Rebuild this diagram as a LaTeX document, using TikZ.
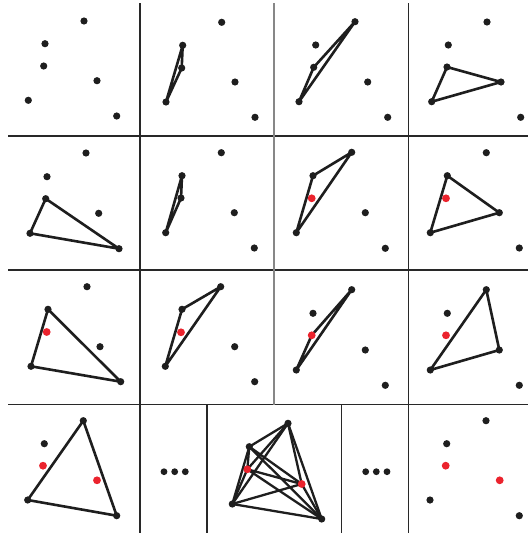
\documentclass[tikz,border=0pt]{standalone}
\usetikzlibrary{backgrounds}
\pgfdeclarelayer{bottom}
\pgfsetlayers{bottom,background,main}
\definecolor{dotblack}{RGB}{30,30,30}
\definecolor{dotred}{RGB}{235,35,45}
\definecolor{gridc}{RGB}{40,40,40}
\definecolor{gridg}{RGB}{135,135,135}
\tikzset{
  blk/.style={circle,fill=dotblack,inner sep=0pt,minimum size=7.2pt},
  redp/.style={circle,fill=dotred,inner sep=0pt,minimum size=7.8pt},
  tri/.style={draw=dotblack,line width=2.6pt,line join=round,line cap=round},
  kedge/.style={draw=dotblack,line width=2.3pt,line cap=round},
  gridline/.style={draw=gridc,line width=1.3pt},
  greyline/.style={draw=gridg,line width=1.5pt}
}
\newcommand\sixpts[9]{%
  \node[blk] (#1A) at (#2) {};
  \node[blk] (#1B) at (#3) {};
  \node[#8] (#1C) at (#4) {};
  \node[#9] (#1D) at (#5) {};
  \node[blk] (#1E) at (#6) {};
  \node[blk] (#1F) at (#7) {};}
\newcommand\tria[4]{%
  \begin{pgfonlayer}{background}
  \draw[tri] (#1#2.center) -- (#1#3.center) -- (#1#4.center) -- cycle;
  \end{pgfonlayer}}
\begin{document}
\begin{tikzpicture}[x=1pt,y=-1pt]
\useasboundingbox (0,0) rectangle (528,533);
\begin{pgfonlayer}{bottom}
\fill[white] (0,0) rectangle (528,533);
\end{pgfonlayer}
% grid
\draw[gridline] (8,136) -- (528,136);
\draw[gridline] (8,270) -- (528,270);
\draw[gridline] (8,404.5) -- (528,404.5);
\draw[gridline] (140,3) -- (140,533);
\draw[greyline] (274,3) -- (274,404.5);
\draw[gridline] (408.5,3) -- (408.5,533);
\draw[gridline] (207,405) -- (207,533);
\draw[gridline] (341.7,404.5) -- (341.7,533);
% row 1
\sixpts{a}{84,21}{45,43.7}{43.7,66}{97,80.7}{28.3,100.3}{116.7,116}{blk}{blk}
\sixpts{b}{221.7,22.3}{182.7,45.3}{181.7,68}{235,82}{166,102}{255,117.3}{blk}{blk}
\tria{b}{E}{B}{C}
\sixpts{c}{355,21.7}{315.7,45}{313.7,67.3}{367.7,82}{299,101.7}{387.7,117.3}{blk}{blk}
\tria{c}{E}{C}{A}
\sixpts{d}{487,22}{448.3,45}{447,67}{501,82}{431.7,101.7}{520.7,117.3}{blk}{blk}
\tria{d}{E}{C}{D}
% row 2
\sixpts{e}{86,153}{47,176.7}{45.7,198.7}{98.7,213.3}{30,233.3}{119,248.7}{blk}{blk}
\tria{e}{C}{F}{E}
\sixpts{f}{221.3,152.7}{182,175.7}{181,198}{234.3,212.7}{165.7,232.7}{254.3,248}{blk}{blk}
\tria{f}{E}{B}{C}
\sixpts{g}{351.7,152.3}{313,175.7}{311.7,198.3}{365.3,212.7}{296.3,232.7}{385.3,248.3}{redp}{blk}
\tria{g}{E}{B}{A}
\sixpts{h}{486.3,152.7}{447.3,175.7}{446,198.3}{499.3,212.7}{430.3,232.7}{519.3,248}{redp}{blk}
\tria{h}{E}{B}{D}
% row 3
\sixpts{i}{87,286.7}{48,309.3}{46.7,332}{100,346.7}{31,366.3}{120.7,381.7}{redp}{blk}
\tria{i}{E}{B}{F}
\sixpts{j}{220.7,286.7}{182,309.3}{181,332.3}{234.7,346.7}{165.3,366.3}{254.7,381.7}{redp}{blk}
\tria{j}{E}{B}{A}
\sixpts{k}{351.7,289.7}{313,313.3}{311.7,335.3}{365.3,350}{296.3,370}{385.3,385.3}{redp}{blk}
\tria{k}{E}{C}{A}
\sixpts{l}{486.3,289.7}{447.3,313.3}{446,335.3}{499.3,350}{430.3,370}{519.3,385.3}{redp}{blk}
\tria{l}{E}{A}{D}
% row 4
\sixpts{m}{83.3,420.7}{44.3,443.7}{43,465.7}{97,480.3}{27.7,500}{116.7,515.7}{redp}{redp}
\tria{m}{E}{A}{F}
\node[blk,minimum size=6.8pt] (dl1) at (164,471.7) {};
\node[blk,minimum size=6.8pt] (dl2) at (174.7,471.7) {};
\node[blk,minimum size=6.8pt] (dl3) at (185.3,471.7) {};
\sixpts{n}{288,423.3}{249.3,446.7}{247.3,469.3}{301.7,484}{232.3,504}{321.7,519}{redp}{redp}
\begin{pgfonlayer}{background}
\foreach \p/\q in {A/B,A/C,A/D,A/E,A/F,B/C,B/D,B/E,B/F,C/D,C/E,C/F,D/E,D/F,E/F}
  \draw[kedge] (n\p.center) -- (n\q.center);
\end{pgfonlayer}
\node[blk,minimum size=6.8pt] (dr1) at (365.7,471.7) {};
\node[blk,minimum size=6.8pt] (dr2) at (376.3,471.7) {};
\node[blk,minimum size=6.8pt] (dr3) at (387,471.7) {};
\sixpts{o}{486,420.7}{446.7,443.7}{445.7,465.7}{499.7,480.3}{430,500}{519.3,515.7}{redp}{redp}
\end{tikzpicture}
\end{document}
